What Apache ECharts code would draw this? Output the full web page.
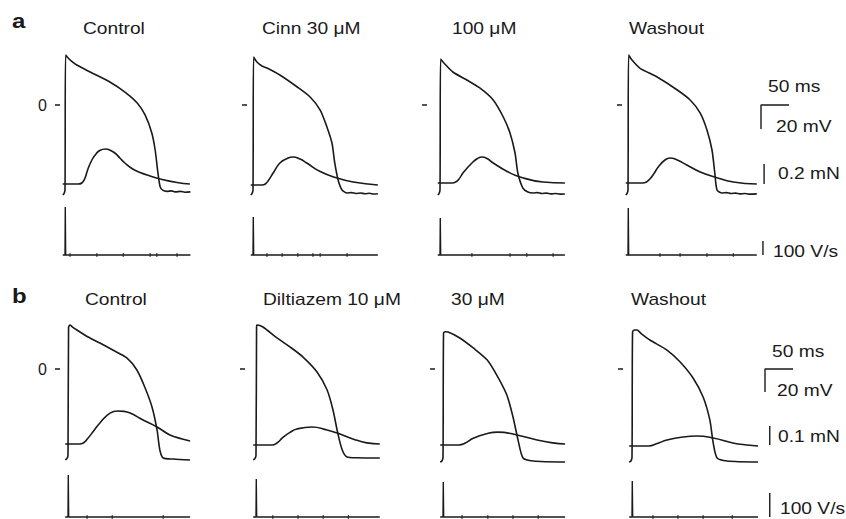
<!DOCTYPE html>
<html>
<head>
<meta charset="utf-8">
<title>Action potentials, contraction and dV/dt</title>
<script src="https://cdn.jsdelivr.net/npm/echarts@6/dist/echarts.min.js"></script>
<style>
  html, body { margin: 0; padding: 0; background: #fff; }
  #chart { width: 846px; height: 519px; }
</style>
</head>
<body>
<div id="chart"></div>
<script>
// panel titles
const titlesA = ['Control', 'Cinn 30 μM', '100 μM', 'Washout']
const titlesB = ['Control', 'Diltiazem 10 μM', '30 μM', 'Washout']

// action potentials, [ms, mV]  (row a)
const apA_control = [[-4, -75], [-2, -74], [0, -71], [1, 41.7], [4, 40], [11, 36.7], [21, 33.3], [45, 27.5], [80, 19.2], [107, 10.8], [129, 1.7], [143, -8.3], [155, -23.3], [161, -37.5], [166, -56.7], [170, -68.3], [175, -71.2], [182, -72], [190, -71.6], [198, -72.4], [206, -72], [214, -72.7], [224, -72.4]]
const apA_cinn30 = [[-4, -75], [-2, -74], [0, -71], [1, 40], [7, 35.8], [16, 32.5], [25, 30.8], [48, 25], [79, 15], [102, 6.7], [120, -4.2], [132, -18.3], [141, -31.7], [146, -48.3], [152, -62.5], [159, -70.8], [168, -73.3], [176, -73], [184, -73.7], [192, -73.3], [200, -74], [208, -73.6], [216, -74.2], [223, -74]]
const apA_cinn100 = [[-4, -75], [-2, -74], [0, -71], [1, 38.3], [7, 35], [23, 27.5], [48, 20.8], [71, 14.2], [95, 4.2], [113, -10], [125, -23.3], [134, -40], [139, -56.7], [148, -69.2], [157, -72.5], [166, -73.3], [174, -73], [182, -73.8], [190, -73.4], [198, -74.1], [206, -73.7], [214, -74.3], [223, -74.2]]
const apA_wash = [[-4, -75], [-2, -74], [0, -71], [1, 41.7], [7, 37.5], [21, 30.8], [52, 23.3], [88, 12.5], [111, 4.2], [129, -6.7], [141, -20.8], [150, -37.5], [155, -56.7], [159, -70.8], [168, -73.3], [176, -73], [184, -73.8], [192, -73.4], [200, -74.1], [208, -73.7], [216, -74.3], [230, -74.1]]

// contraction, [ms, mN above rest]  (row a)
const ctA_control = [[-4, 0], [24, 0], [30, 0.01], [35, 0.05], [41, 0.15], [48, 0.24], [54, 0.29], [62, 0.335], [73, 0.35], [80, 0.34], [89, 0.31], [98, 0.26], [107, 0.21], [121, 0.15], [134, 0.115], [152, 0.08], [170, 0.05], [200, 0.015], [223, 0]]
const ctA_cinn30 = [[-4, -0.01], [16, -0.01], [22, 0], [28, 0.04], [36, 0.11], [48, 0.21], [61, 0.255], [71, 0.27], [84, 0.25], [96, 0.21], [120, 0.125], [150, 0.06], [179, 0.02], [223, -0.01]]
const ctA_cinn100 = [[-4, 0.01], [22, 0.01], [28, 0.02], [34, 0.05], [41, 0.11], [57, 0.21], [67, 0.255], [75, 0.27], [84, 0.255], [95, 0.21], [120, 0.125], [143, 0.07], [184, 0.02], [223, 0.01]]
const ctA_wash = [[-4, 0.01], [26, 0.01], [33, 0.02], [39, 0.05], [47, 0.11], [54, 0.17], [66, 0.24], [75, 0.26], [86, 0.245], [105, 0.19], [129, 0.12], [155, 0.07], [188, 0.02], [230, 0]]

// action potentials, [ms, mV]  (row b)
const apB_control = [[-5, -79], [-2, -78], [0, -75], [1, 36], [3.6, 38.3], [8, 36.5], [16, 33.9], [36, 27.8], [57, 22.6], [80, 16.5], [105, 9.6], [123, -0.9], [137, -15.7], [150, -33], [159, -53], [164, -70.4], [170, -77.4], [188, -78.3], [218, -79.1]]
const apB_dilt10 = [[-5, -79], [-2, -78], [0, -75], [1, 37], [2, 38.3], [12.5, 36.5], [37.5, 27], [61, 19.1], [84, 10.4], [109, -2.6], [127, -18.3], [137.5, -35.7], [146, -55.7], [154, -70.4], [162.5, -76.5], [180, -77.2], [221, -77.4]]
const apB_dilt30 = [[-5, -81], [-2, -80], [0, -77], [1, 31.3], [4, 32.4], [9, 32.2], [30, 27], [54, 18.3], [79, 7.8], [98, -7], [114, -22.6], [125, -41.7], [134, -61.7], [143, -77.4], [161, -80], [218, -80.9]]
const apB_wash = [[-5, -81], [-2, -80], [0, -77], [1, 32.2], [4, 33.9], [9, 33.9], [16, 31], [32, 25.2], [62.5, 16.5], [86, 6.1], [109, -7.8], [127, -24.3], [139, -44.3], [145, -64.3], [152, -77.4], [170, -80], [225, -80.9]]

// contraction, [ms, mN above rest]  (row b)
const ctB_control = [[-5, 0.005], [20, 0.005], [28, 0.012], [36, 0.037], [46, 0.075], [57, 0.116], [75, 0.168], [89, 0.179], [100, 0.177], [111, 0.168], [134, 0.132], [159, 0.095], [182, 0.053], [204, 0.032], [218, 0.021]]
const ctB_dilt10 = [[-5, 0], [28, 0], [38, 0.012], [48, 0.04], [60, 0.065], [73, 0.084], [100, 0.095], [127, 0.079], [150, 0.058], [173, 0.032], [198, 0.011], [221, 0.005]]
const ctB_dilt30 = [[-5, 0], [28, 0], [40, 0.01], [54, 0.035], [76, 0.058], [98, 0.068], [132, 0.053], [168, 0.026], [196, 0.011], [218, 0.005]]
const ctB_wash = [[-5, -0.005], [30, -0.005], [45, 0.008], [62.5, 0.026], [91, 0.042], [116, 0.047], [145, 0.037], [180, 0.011], [205, 0], [225, -0.005]]

// dV/dt max (V/s) and the small marks on the dV/dt baseline (ms)
const dvPeakA = [343, 271, 264, 336]
const dvPeakB = [175, 158, 146, 150]
const blipsA = [[9, 57, 104, 152, 164, 200], [25, 52, 80, 107, 120, 168], [57, 125, 155, 202], [57, 93, 141, 188]]
const blipsB = [[34, 79, 170], [30, 75, 120, 165], [34, 80, 125, 170], [37.5, 82, 127, 179]]

// scale bars
const scaleMs = 50
const scaleMv = 20
const scaleForceA = 0.2
const scaleForceB = 0.1
const scaleRate = 100
const scaleLabelsA = ['50 ms', '20 mV', '0.2 mN', '100 V/s']
const scaleLabelsB = ['50 ms', '20 mV', '0.1 mN', '100 V/s']
const zeroMv = 0

// layout (pixels)
const PX_PER_MS = 0.56
const TICK_LEN = 5
const FONT = '"Liberation Sans", Arial, sans-serif'
const INK = '#1a1a1a'
const layoutA = {
  x0: [65, 253, 440, 628], tickX: [60, 247, 427, 622],
  zeroY: 105, pxPerMv: 1.2, apTop: 40, apBottom: 205,
  ctBaseY: 184, pxPerMn: 100,
  dvTop: 198, dvBottom: 262, dvBaseY: 255, pxPerVs: 0.14,
  titleX: [83, 262, 452, 629], titleY: 29, letterY: 21,
  barT: [237.5, 243, 241],
  labelPos: [[768, 87], [776, 127], [778, 174], [773, 252]]
}
const layoutB = {
  x0: [68, 256, 443, 632], tickX: [60, 245, 435, 623],
  zeroY: 369, pxPerMv: 1.15, apTop: 310, apBottom: 470,
  ctBaseY: 445, pxPerMn: 190,
  dvTop: 465, dvBottom: 519, dvBaseY: 517, pxPerVs: 0.24,
  titleX: [85, 263, 451, 631], titleY: 300, letterY: 296,
  barT: [237.5, 246, 246],
  labelPos: [[772, 352], [777, 391], [778, 437], [780, 509]]
}

const rows = [
  { letter: 'a', titles: titlesA, ap: [apA_control, apA_cinn30, apA_cinn100, apA_wash], ct: [ctA_control, ctA_cinn30, ctA_cinn100, ctA_wash],
    dvPeak: dvPeakA, blips: blipsA, force: scaleForceA, labels: scaleLabelsA, L: layoutA },
  { letter: 'b', titles: titlesB, ap: [apB_control, apB_dilt10, apB_dilt30, apB_wash], ct: [ctB_control, ctB_dilt10, ctB_dilt30, ctB_wash],
    dvPeak: dvPeakB, blips: blipsB, force: scaleForceB, labels: scaleLabelsB, L: layoutB }
]

function text(str, x, y, size, weight) {
  return {
    type: 'text', x: x, y: y, scaleX: 1.2, silent: true,
    style: {
      text: str, fill: INK, fontSize: size, fontFamily: FONT, fontWeight: weight || 'normal',
      textAlign: 'left', textVerticalAlign: 'middle', align: 'left', verticalAlign: 'middle'
    }
  }
}

function trace(xi, yi, data, smooth) {
  return {
    type: 'line', xAxisIndex: xi, yAxisIndex: yi, data: data,
    symbol: 'none', smooth: smooth, silent: true,
    lineStyle: { color: INK, width: 1.6 }
  }
}

function bar(xi, yi, data) {
  return {
    type: 'line', xAxisIndex: xi, yAxisIndex: yi, data: data,
    symbol: 'none', silent: true,
    lineStyle: { color: INK, width: 1.4 }
  }
}

const grid = []
const xAxis = []
const yAxis = []
const series = []
const graphic = []

rows.forEach((row, r) => {
  const L = row.L
  graphic.push(text(row.letter, 12, L.letterY, 20, 'bold'))
  row.ap.forEach((ap, c) => {
    const p = r * 4 + c
    const last = c === 3
    // grid starts where the 0 mV tick starts
    const left = L.tickX[c] - TICK_LEN
    const tMin = -(L.x0[c] - left) / PX_PER_MS
    const tTick = -(L.x0[c] - L.tickX[c]) / PX_PER_MS
    const tMax = last ? (812 - L.x0[c]) / PX_PER_MS : 235
    const width = (tMax - tMin) * PX_PER_MS

    grid.push({ left: left, top: L.apTop, width: width, height: L.apBottom - L.apTop })
    grid.push({ left: left, top: L.dvTop, width: width, height: L.dvBottom - L.dvTop })
    xAxis.push({ type: 'value', gridIndex: 2 * p, min: tMin, max: tMax, show: false })
    xAxis.push({ type: 'value', gridIndex: 2 * p + 1, min: tMin, max: tMax, show: false })

    // membrane potential
    yAxis.push({
      type: 'value', gridIndex: 2 * p,
      min: -(L.apBottom - L.zeroY) / L.pxPerMv,
      max: (L.zeroY - L.apTop) / L.pxPerMv,
      axisLine: { show: false },
      splitLine: { show: false },
      axisTick: { show: false },
      axisLabel: { show: c === 0, customValues: [zeroMv], margin: 8, fontSize: 16, fontFamily: FONT, color: INK }
    })
    // contraction
    yAxis.push({
      type: 'value', gridIndex: 2 * p, show: false,
      min: -(L.apBottom - L.ctBaseY) / L.pxPerMn,
      max: (L.ctBaseY - L.apTop) / L.pxPerMn
    })
    // dV/dt
    yAxis.push({
      type: 'value', gridIndex: 2 * p + 1, show: false,
      min: -(L.dvBottom - L.dvBaseY) / L.pxPerVs,
      max: (L.dvBaseY - L.dvTop) / L.pxPerVs
    })

    // 0 mV marker
    series.push(bar(2 * p, 3 * p, [[tMin, zeroMv], [tTick, zeroMv]]))

    series.push(trace(2 * p, 3 * p, ap, 0.25))
    series.push(trace(2 * p, 3 * p + 1, row.ct[c], 0.5))

    const t0 = ap[0][0]
    const t1 = ap[ap.length - 1][0]
    series.push(bar(2 * p + 1, 3 * p + 2, [[t0, 0], [0, 0], [0.5, row.dvPeak[c]], [1.2, 0], [t1, 0]]))
    series.push({
      type: 'scatter', xAxisIndex: 2 * p + 1, yAxisIndex: 3 * p + 2, silent: true,
      data: row.blips[c].map(t => [t, 0]),
      symbol: 'rect', symbolSize: [1.2, 4], itemStyle: { color: INK }
    })

    graphic.push(text(row.titles[c], L.titleX[c], L.titleY, 16))

    if (last) {
      const [tv, tf, td] = L.barT
      series.push(bar(2 * p, 3 * p, [[tv + scaleMs, 0], [tv, 0], [tv, -scaleMv]]))
      series.push(bar(2 * p, 3 * p + 1, [[tf, 0], [tf, row.force]]))
      series.push(bar(2 * p + 1, 3 * p + 2, [[td, 0], [td, scaleRate]]))
      row.labels.forEach((s, k) => {
        graphic.push(text(s, L.labelPos[k][0], L.labelPos[k][1], 16))
      })
    }
  })
})

const chart = echarts.init(document.getElementById('chart'), null, { renderer: 'svg' })
chart.setOption({
  backgroundColor: '#fff',
  animation: false,
  grid: grid,
  xAxis: xAxis,
  yAxis: yAxis,
  series: series,
  graphic: graphic
})
</script>
</body>
</html>
